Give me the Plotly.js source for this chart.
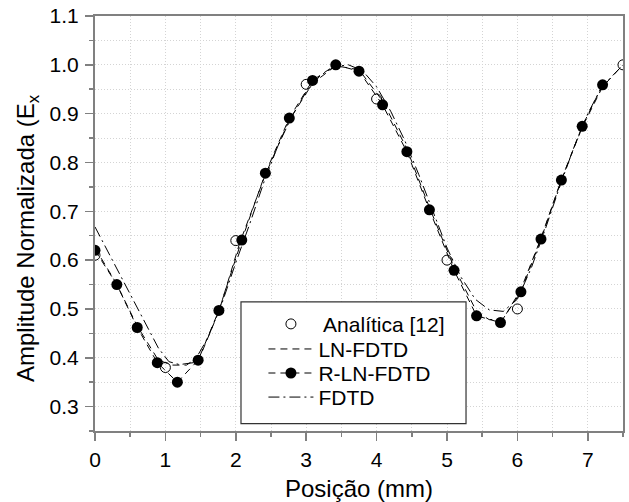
<!DOCTYPE html>
<html>
<head>
<meta charset="utf-8">
<script src="https://cdn.plot.ly/plotly-3.0.1.min.js"></script>
<style>html,body{margin:0;padding:0;background:#fff;}#chart{width:629px;height:502px;}</style>
</head>
<body>
<div id="chart"></div>
<script>
// Analítica [12]
const anaX = [0, 1, 2, 3, 4, 5, 6, 7.5];
const anaY = [0.61, 0.38, 0.64, 0.96, 0.93, 0.60, 0.50, 1.0];
// R-LN-FDTD
const rlnX = [0, 0.31, 0.6, 0.885, 1.17, 1.465, 1.76, 2.085, 2.42, 2.76, 3.09, 3.42, 3.75, 4.085, 4.43, 4.75, 5.1, 5.42, 5.76, 6.05, 6.335, 6.625, 6.92, 7.21];
const rlnY = [0.62, 0.55, 0.462, 0.39, 0.35, 0.395, 0.497, 0.641, 0.778, 0.891, 0.968, 1.0, 0.987, 0.918, 0.822, 0.703, 0.579, 0.486, 0.472, 0.535, 0.643, 0.764, 0.874, 0.959];
// LN-FDTD
const lnX = [0, 0.3, 0.6, 0.9, 1.1, 1.3, 1.5, 1.76, 2.06, 2.42, 2.76, 3.09, 3.42, 3.75, 4.09, 4.43, 4.75, 5.1, 5.42, 5.6, 5.8, 6.05, 6.335, 6.625, 6.92, 7.21, 7.5];
const lnY = [0.625, 0.553, 0.465, 0.395, 0.385, 0.385, 0.405, 0.495, 0.637, 0.775, 0.887, 0.962, 0.998, 0.99, 0.925, 0.828, 0.708, 0.585, 0.495, 0.478, 0.48, 0.54, 0.645, 0.765, 0.872, 0.955, 1.0];
// FDTD
const fdX = [0, 0.3, 0.6, 0.9, 1.05, 1.2, 1.4, 1.6, 1.8, 2.0, 2.2, 2.4, 2.6, 2.8, 3.0, 3.2, 3.4, 3.6, 3.8, 4.0, 4.2, 4.4, 4.6, 4.8, 5.0, 5.2, 5.4, 5.6, 5.8, 6.0, 6.2, 6.4, 6.6, 6.8, 7.0, 7.2, 7.5];
const fdY = [0.668, 0.585, 0.50, 0.42, 0.392, 0.386, 0.39, 0.44, 0.51, 0.595, 0.675, 0.76, 0.835, 0.895, 0.945, 0.978, 0.996, 1.0, 0.988, 0.955, 0.905, 0.845, 0.775, 0.70, 0.625, 0.565, 0.52, 0.498, 0.495, 0.52, 0.585, 0.665, 0.75, 0.83, 0.9, 0.955, 1.0];

const xTicks = [0, 1, 2, 3, 4, 5, 6, 7];
const yTicks = [0.3, 0.4, 0.5, 0.6, 0.7, 0.8, 0.9, 1.0, 1.1];

const font = {family: 'Liberation Sans, Arial, sans-serif', color: '#000'};

const traces = [
  {x: fdX, y: fdY, name: 'FDTD', mode: 'lines', legend: 'legend4',
   line: {color: '#000', width: 1, dash: '11px,4px,2px,4px'}},
  {x: lnX, y: lnY, name: 'LN-FDTD', mode: 'lines', legend: 'legend2',
   line: {color: '#000', width: 1, dash: '7px,5px'}},
  {x: rlnX, y: rlnY, name: 'R-LN-FDTD', mode: 'lines+markers', legend: 'legend3',
   line: {color: '#000', width: 1, dash: '7px,5px'},
   marker: {symbol: 'circle', size: 11, color: '#000'}},
  {x: anaX, y: anaY, name: ' Analítica [12]', mode: 'markers', legend: 'legend',
   marker: {symbol: 'circle-open', size: 10, color: '#000', line: {width: 1, color: '#000'}}}
];

const gridStyle = {showgrid: true, gridcolor: '#d4d4d4', gridwidth: 1, griddash: '1px,2px'};

const axisCommon = Object.assign({
  showline: true, mirror: true, linecolor: '#808080', linewidth: 2,
  ticks: 'outside', ticklen: 8, tickwidth: 1.5, tickcolor: '#808080',
  zeroline: false, tickfont: Object.assign({size: 21}, font)
}, gridStyle);

function legendAt(py) {
  return {
    x: 0.319, y: (430.5 - py) / 414, xanchor: 'left', yanchor: 'middle',
    bgcolor: 'rgba(0,0,0,0)', borderwidth: 0,
    font: Object.assign({size: 21}, font), itemwidth: 45
  };
}

const layout = {
  width: 629, height: 502,
  margin: {l: 95, r: 6, t: 16, b: 71},
  paper_bgcolor: '#fff', plot_bgcolor: '#fff',
  showlegend: true,
  xaxis: Object.assign({}, axisCommon, {
    range: [0, 7.5], tickvals: xTicks, ticktext: xTicks.map(String),
    ticklabelstandoff: 1,
    minor: Object.assign({dtick: 0.5, tick0: 0, ticks: 'outside', ticklen: 4, tickcolor: '#808080'}, gridStyle),
    title: {text: 'Posição (mm)', font: Object.assign({size: 24}, font), standoff: 12}
  }),
  yaxis: Object.assign({}, axisCommon, {
    range: [0.25, 1.1], tickvals: yTicks, ticktext: yTicks.map(v => v.toFixed(1)),
    ticklabelstandoff: 2,
    minor: Object.assign({dtick: 0.05, tick0: 0.25, ticks: 'outside', ticklen: 4, tickcolor: '#808080'}, gridStyle)
  }),
  annotations: [{
    text: 'Amplitude Normalizada (E<sub>x</sub>', xref: 'paper', yref: 'paper',
    x: (27 - 95) / 528, y: (430.5 - 238) / 414, xanchor: 'center', yanchor: 'middle',
    textangle: -90, showarrow: false, font: Object.assign({size: 24}, font)
  }],
  legend: legendAt(324),
  legend2: legendAt(349),
  legend3: legendAt(373),
  legend4: legendAt(397),
  shapes: [{
    type: 'rect', xref: 'paper', yref: 'paper',
    x0: 0.2765, x1: 0.7027, y0: 0.018, y1: 0.311,
    line: {color: '#333', width: 1.2}, fillcolor: '#fff', layer: 'above'
  }]
};

Plotly.newPlot('chart', traces, layout, {displayModeBar: false, staticPlot: true});
</script>
</body>
</html>
